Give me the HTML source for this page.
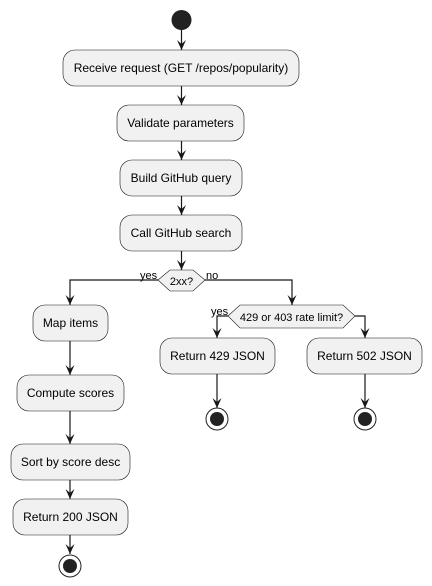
<!DOCTYPE html>
<html><head><style>body{margin:0;background:#fff}svg{display:block}text{font-family:"Liberation Sans",sans-serif;font-size:12px;fill:#000}</style></head><body>
<svg width="432" height="586" viewBox="0 0 432 586" xmlns="http://www.w3.org/2000/svg">
<defs><path id="ah" d="M0,0 l-4.5,-10 l4.5,4 l4.5,-4 z" fill="#181818"/></defs>
<g fill="#f1f1f1" stroke="#181818" stroke-width="0.6">
<rect x="63" y="50" width="236" height="36" rx="12"/>
<rect x="117" y="105" width="127" height="36" rx="12"/>
<rect x="120" y="160" width="122" height="36" rx="12"/>
<rect x="120" y="215" width="122" height="36" rx="12"/>
<polygon points="158,280 170,270 193,270 205,280 193,291 170,291"/>
<rect x="33" y="305" width="75" height="36" rx="12"/>
<rect x="17" y="375" width="107" height="36" rx="12"/>
<rect x="11" y="444" width="119" height="36" rx="12"/>
<rect x="13" y="499" width="115" height="36" rx="12"/>
<polygon points="228,316 240,305 343,305 355,316 343,328 240,328"/>
<rect x="160" y="338" width="115" height="36" rx="12"/>
<rect x="307" y="338" width="115" height="36" rx="12"/>
</g>
<circle cx="181.5" cy="20" r="10" fill="#222"/>
<g fill="none" stroke="#181818" stroke-width="1.2">
<path d="M181.5,30V50M181.5,86V105M181.5,141V160M181.5,196V215M181.5,251V270"/>
<path d="M158,280H70V305M70,341V375M70,411V444M70,480V499M70,535V554"/>
<path d="M205,280H292V305M228,316H217V338M217,374V408M355,316H365V338M365,374V408"/>
</g>
<use href="#ah" x="181.5" y="50"/><use href="#ah" x="181.5" y="105"/><use href="#ah" x="181.5" y="160"/><use href="#ah" x="181.5" y="215"/><use href="#ah" x="181.5" y="270"/>
<use href="#ah" x="70" y="305"/><use href="#ah" x="70" y="375"/><use href="#ah" x="70" y="444"/><use href="#ah" x="70" y="499"/><use href="#ah" x="70" y="554"/>
<use href="#ah" x="292" y="305"/><use href="#ah" x="217" y="338"/><use href="#ah" x="365" y="338"/><use href="#ah" x="217" y="408"/><use href="#ah" x="365" y="408"/>
<g stroke="#222" stroke-width="1" fill="none"><circle cx="70" cy="566" r="11"/><circle cx="217" cy="419" r="11"/><circle cx="365" cy="419" r="11"/></g>
<g fill="#222"><circle cx="70" cy="566" r="7"/><circle cx="217" cy="419" r="7"/><circle cx="365" cy="419" r="7"/></g>
<g text-anchor="middle">
<text x="181" y="72">Receive request (GET /repos/popularity)</text>
<text x="180.5" y="127">Validate parameters</text>
<text x="181" y="182">Build GitHub query</text>
<text x="181" y="237">Call GitHub search</text>
<text x="181.5" y="285" style="font-size:11px">2xx?</text>
<text x="70.5" y="327">Map items</text>
<text x="70.5" y="397">Compute scores</text>
<text x="70.5" y="466">Sort by score desc</text>
<text x="70.5" y="521">Return 200 JSON</text>
<text x="291.5" y="321" style="font-size:11px">429 or 403 rate limit?</text>
<text x="217.5" y="360">Return 429 JSON</text>
<text x="364.5" y="360">Return 502 JSON</text>
</g>
<text x="140" y="279" style="font-size:11px">yes</text>
<text x="206" y="279" style="font-size:11px">no</text>
<text x="211" y="315" style="font-size:11px">yes</text>
</svg>
</body></html>
